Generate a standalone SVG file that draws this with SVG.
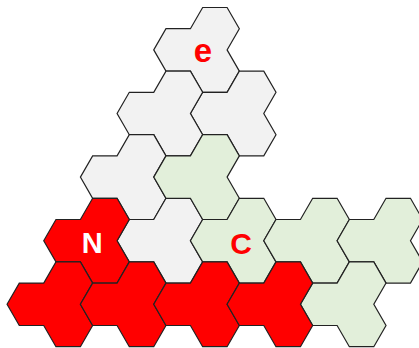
<svg xmlns="http://www.w3.org/2000/svg" xmlns:xlink="http://www.w3.org/1999/xlink" width="419" height="348" viewBox="0 0 419 348">
  <style>
    .tile { stroke: #222222; stroke-width: 1.2; stroke-linejoin: miter; }
    .gray { fill: #f2f2f2; }
    .green { fill: #e2efda; }
    .red { fill: #ff0000; }
    .lbl { font-family: "Liberation Sans", Arial, sans-serif; font-weight: bold; text-anchor: middle; }
  </style>
  <defs>
    <!-- tri-hex tile, origin at the shared (triple) vertex -->
    <path id="tri" d="M-48.9,0 L-36.675,-21.2 L-12.225,-21.2 L0,-42.4 L24.45,-42.4 L36.675,-21.2 L24.45,0 L36.675,21.2 L24.45,42.4 L0,42.4 L-12.225,21.2 L-36.675,21.2 Z"/>
  </defs>
  <rect width="419" height="348" fill="#ffffff"/>
  <g id="tiles">
    <g id="tile-e"><use xlink:href="#tri" href="#tri" class="tile gray" x="202.65" y="49.9"/></g>
    <g id="tile-gray-2"><use xlink:href="#tri" href="#tri" class="tile gray" x="239.325" y="113.5"/></g>
    <g id="tile-gray-3"><use xlink:href="#tri" href="#tri" class="tile gray" x="165.975" y="113.5"/></g>
    <g id="tile-gray-4"><use xlink:href="#tri" href="#tri" class="tile gray" x="129.3" y="177.1"/></g>
    <g id="tile-gray-5"><use xlink:href="#tri" href="#tri" class="tile gray" x="165.975" y="240.7"/></g>
    <g id="tile-green-1"><use xlink:href="#tri" href="#tri" class="tile green" x="202.65" y="177.1"/></g>
    <g id="tile-C"><use xlink:href="#tri" href="#tri" class="tile green" x="239.325" y="240.7"/></g>
    <g id="tile-green-3"><use xlink:href="#tri" href="#tri" class="tile green" x="312.675" y="240.7"/></g>
    <g id="tile-green-4"><use xlink:href="#tri" href="#tri" class="tile green" x="386.025" y="240.7"/></g>
    <g id="tile-green-5"><use xlink:href="#tri" href="#tri" class="tile green" x="349.35" y="304.3"/></g>
    <g id="tile-N"><use xlink:href="#tri" href="#tri" class="tile red" x="92.625" y="240.7"/></g>
    <g id="tile-red-2"><use xlink:href="#tri" href="#tri" class="tile red" x="55.95" y="304.3"/></g>
    <g id="tile-red-3"><use xlink:href="#tri" href="#tri" class="tile red" x="129.3" y="304.3"/></g>
    <g id="tile-red-4"><use xlink:href="#tri" href="#tri" class="tile red" x="202.65" y="304.3"/></g>
    <g id="tile-red-5"><use xlink:href="#tri" href="#tri" class="tile red" x="276.0" y="304.3"/></g>
  </g>
  <g id="connectors"></g>
  <g id="labels">
    <text class="lbl" x="203" y="61.5" font-size="33" fill="#ff0000">e</text>
    <text class="lbl" x="92.3" y="253.3" font-size="29" fill="#ffffff">N</text>
    <text class="lbl" x="241" y="254" font-size="30" fill="#ff0000">C</text>
  </g>
</svg>
